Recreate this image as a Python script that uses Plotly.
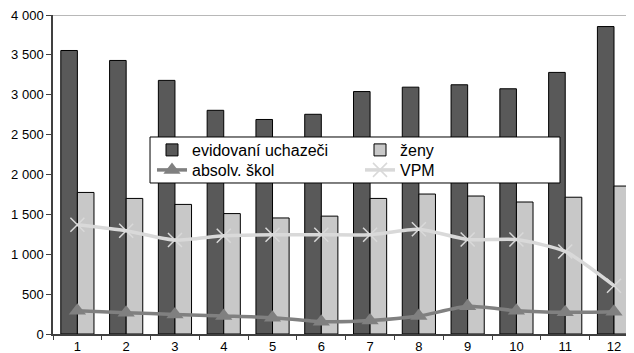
import plotly.graph_objects as go

months = ["1", "2", "3", "4", "5", "6", "7", "8", "9", "10", "11", "12"]
evidovani = [3555, 3430, 3180, 2805, 2690, 2755, 3040, 3095, 3125, 3075, 3280, 3855]
zeny = [1775, 1700, 1625, 1510, 1455, 1478, 1700, 1755, 1730, 1655, 1715, 1855]
absolv = [292, 267, 245, 226, 205, 155, 168, 225, 347, 292, 272, 280]
vpm = [1370, 1295, 1178, 1233, 1245, 1245, 1245, 1313, 1185, 1185, 1035, 606]

fig = go.Figure()
fig.add_trace(go.Bar(x=months, y=evidovani, name="evidovaní uchazeči", legend="legend",
                     marker=dict(color="#595959", line=dict(color="black", width=1))))
fig.add_trace(go.Bar(x=months, y=zeny, name="ženy", legend="legend2",
                     marker=dict(color="#c8c8c8", line=dict(color="black", width=1))))
fig.add_trace(go.Scatter(x=months, y=absolv, name="absolv. škol", mode="lines+markers",
                         legend="legend3",
                         line=dict(color="#808080", width=3.5, shape="spline", smoothing=0.6),
                         marker=dict(symbol="triangle-up", size=15, color="#808080")))
fig.add_trace(go.Scatter(x=months, y=vpm, name="VPM", mode="lines+markers",
                         legend="legend4",
                         line=dict(color="#d9d9d9", width=3.5, shape="spline", smoothing=0.6),
                         marker=dict(symbol="x-thin", size=14,
                                     line=dict(color="#d9d9d9", width=1.5))))

# top border of the plot area
fig.add_shape(type="line", xref="paper", x0=0, x1=1, yref="y", y0=4000, y1=4000,
              line=dict(color="#a0a0a0", width=1.5), layer="below")
# frame round the four legend entries
fig.add_shape(type="rect", xref="paper", yref="paper", x0=0.167, x1=0.8726,
              y0=0.4734, y1=0.6176, fillcolor="white",
              line=dict(color="black", width=1), layer="above")

leg = dict(orientation="v", xanchor="left", yanchor="middle", bgcolor="rgba(0,0,0,0)",
           borderwidth=0, font=dict(size=16), itemwidth=30)

# page body has an 8px margin, so the figure is 8px smaller than the window
fig.update_layout(
    width=626, height=345,
    margin=dict(l=45, r=0, t=7, b=19, pad=0),
    paper_bgcolor="white", plot_bgcolor="white",
    barmode="group", bargap=0.32, bargroupgap=0,
    font=dict(family="Liberation Sans, Arial, sans-serif", color="black", size=13),
    showlegend=True,
    legend=dict(leg, x=0.1704, y=0.5768),
    legend2=dict(leg, x=0.5284, y=0.5768),
    legend3=dict(leg, x=0.1704, y=0.5141),
    legend4=dict(leg, x=0.5284, y=0.5141),
    separators=", ",
)
fig.update_xaxes(type="category", range=[-0.5, 11.41], showline=True, automargin=False,
                 linecolor="#404040", linewidth=1.5, ticks="outside", ticklen=4,
                 tickcolor="#404040", tickson="boundaries", showgrid=False,
                 ticklabelstandoff=0, tickfont=dict(size=13))
fig.update_yaxes(range=[0, 4000], dtick=500, showline=True, linecolor="#404040",
                 linewidth=1.5, ticks="outside", ticklen=5, tickcolor="#404040",
                 showgrid=False, zeroline=False, tickformat=",d", automargin=False,
                 ticklabeloverflow="allow", tickfont=dict(size=13))

fig.write_html("out.html")
